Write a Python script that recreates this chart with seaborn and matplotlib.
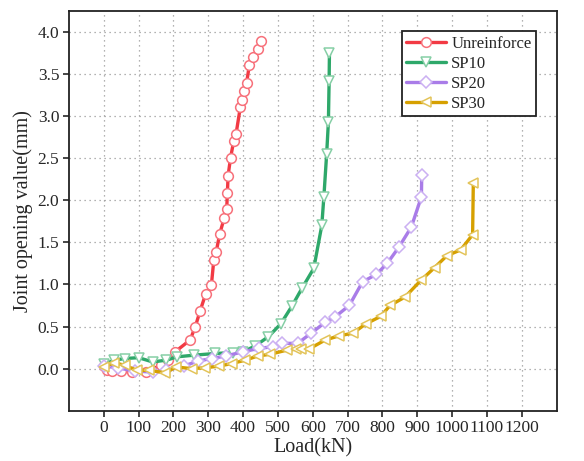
import numpy as np
import pandas as pd
import seaborn as sns
import matplotlib.pyplot as plt

# Load (kN) vs joint opening (mm)
unre_load = [0, 10, 25, 50, 80, 120, 165, 185, 205, 248, 263, 277, 293, 309, 316, 323,
             333, 346, 353, 355, 357, 364, 373, 380, 392, 398, 403, 410, 418, 428, 442, 451]
unre_open = [0.03, -0.02, -0.03, -0.03, -0.04, -0.04, 0.04, 0.10, 0.20, 0.34, 0.50, 0.69,
             0.89, 0.99, 1.29, 1.39, 1.60, 1.79, 1.89, 2.09, 2.29, 2.50, 2.70, 2.79,
             3.10, 3.19, 3.29, 3.39, 3.60, 3.70, 3.80, 3.89]

sp10_load = [0, 30, 60, 100, 140, 180, 210, 260, 320, 370, 400, 435, 473, 508, 540, 570,
             603, 626, 632, 640, 645, 647, 648]
sp10_open = [0.05, 0.10, 0.12, 0.13, 0.08, 0.10, 0.14, 0.16, 0.18, 0.19, 0.20, 0.27,
             0.38, 0.53, 0.74, 0.96, 1.19, 1.70, 2.04, 2.55, 2.93, 3.41, 3.75]

sp20_load = [0, 40, 90, 140, 180, 230, 270, 310, 350, 400, 445, 485, 512, 557, 595, 636,
             663, 705, 743, 783, 814, 847, 883, 912, 913]
sp20_open = [0.03, 0.01, -0.03, -0.04, -0.02, 0.03, 0.09, 0.12, 0.15, 0.20, 0.24, 0.26,
             0.30, 0.30, 0.42, 0.55, 0.61, 0.75, 1.03, 1.12, 1.25, 1.44, 1.68, 2.04, 2.30]

sp30_load = [0, 30, 60, 95, 130, 177, 208, 252, 292, 331, 367, 406, 442, 477, 526, 552,
             566, 588, 636, 676, 715, 752, 795, 822, 865, 911, 950, 985, 1025, 1059, 1061]
sp30_open = [0.02, 0.07, 0.04, -0.02, -0.02, -0.05, 0.02, 0.00, 0.01, 0.03, 0.06, 0.10,
             0.15, 0.17, 0.22, 0.23, 0.23, 0.23, 0.34, 0.39, 0.42, 0.53, 0.62, 0.75,
             0.85, 1.05, 1.20, 1.34, 1.41, 1.59, 2.20]

series = [
    ("Unreinforce", unre_load, unre_open, "#F23A44", "#F7707A", "o"),
    ("SP10", sp10_load, sp10_open, "#2EA86A", "#86CFA6", "v"),
    ("SP20", sp20_load, sp20_open, "#A97CE8", "#CBB0F2", "D"),
    ("SP30", sp30_load, sp30_open, "#D6A000", "#E3C45A", "<"),
]

sns.set_style("ticks")
plt.rcParams["font.family"] = ["Liberation Serif", "DejaVu Serif"]

fig = plt.figure(figsize=(5.84, 4.61), dpi=100)
ax = fig.add_axes([0.118, 0.109, 0.835, 0.868])

for name, x, y, lc, mc, mk in series:
    df = pd.DataFrame({"Load": x, "Open": y})
    sns.lineplot(
        data=df, x="Load", y="Open", ax=ax,
        sort=False, estimator=None,
        color=lc, linewidth=2.4, label=name,
        marker=mk, markersize=7 if mk != "D" else 6,
        markerfacecolor="white", markeredgecolor=mc, markeredgewidth=1.1,
    )

ax.set_xlim(-100, 1300)
ax.set_ylim(-0.5, 4.25)
ax.set_xticks(np.arange(0, 1201, 100))
ax.set_yticks(np.arange(0, 4.01, 0.5))
ax.set_yticklabels([f"{v:.1f}" for v in np.arange(0, 4.01, 0.5)])
ax.grid(True, linestyle=(0, (1, 3)), color="#999999", linewidth=0.9)

ax.tick_params(labelsize=12.5, direction="out", length=4, width=1.2, pad=3)
ax.set_xlabel("Load(kN)", fontsize=14.5, labelpad=1)
ax.set_ylabel("Joint opening value(mm)", fontsize=14.5, labelpad=3)

for s in ax.spines.values():
    s.set_visible(True)
    s.set_linewidth(1.3)
    s.set_color("#222222")

leg = ax.legend(loc="upper right", bbox_to_anchor=(0.957, 0.948), borderaxespad=0,
                fontsize=12, fancybox=False, framealpha=1, edgecolor="#222222",
                handlelength=2.4, labelspacing=0.25, borderpad=0.25, handletextpad=0.3)
leg.get_frame().set_linewidth(1.3)

fig.savefig("out.png", dpi=100)
